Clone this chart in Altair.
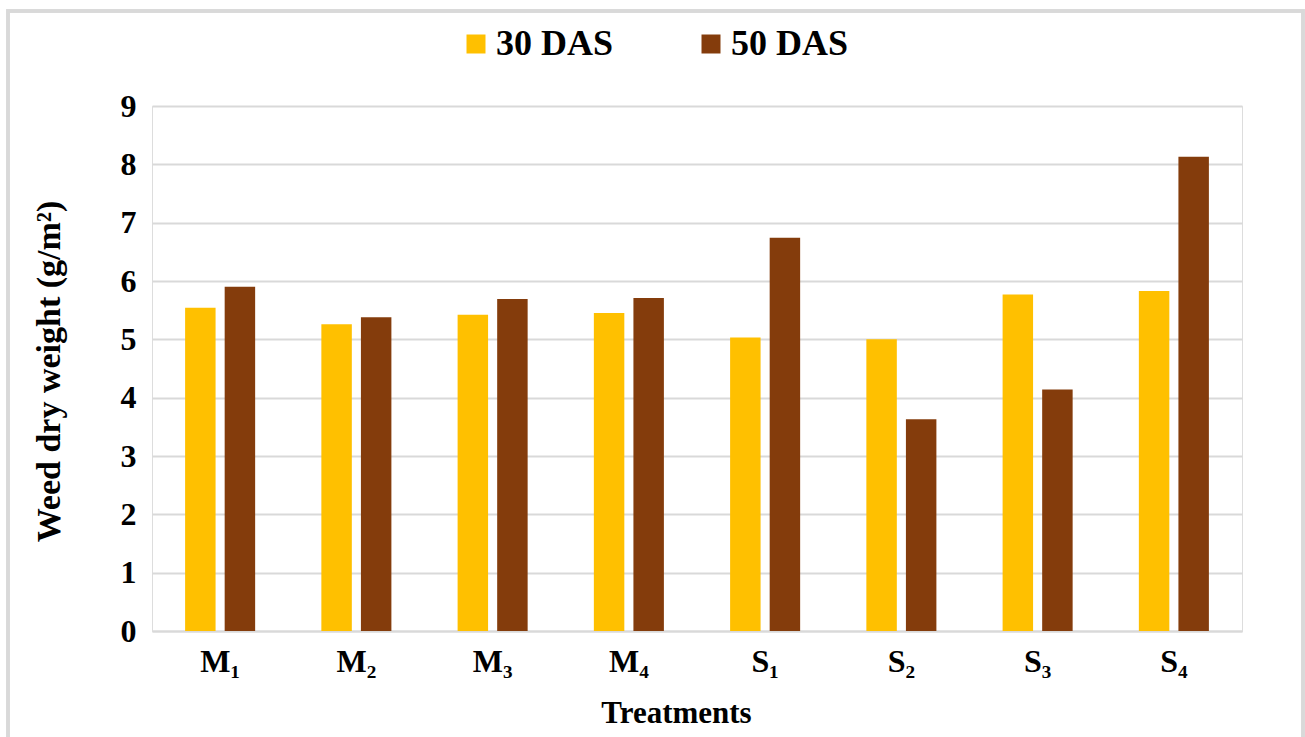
import altair as alt
import pandas as pd

treatments = ["M₁", "M₂", "M₃", "M₄", "S₁", "S₂", "S₃", "S₄"]
das30 = [5.54, 5.26, 5.42, 5.45, 5.03, 5.00, 5.77, 5.83]
das50 = [5.90, 5.38, 5.69, 5.71, 6.74, 3.63, 4.14, 8.13]
series = ["30 DAS", "50 DAS"]
colors = ["#FFC000", "#843C0C"]
y_ticks = [0, 1, 2, 3, 4, 5, 6, 7, 8, 9]

rows = []
for t, a, b in zip(treatments, das30, das50):
    rows.append({"Treatment": t, "Series": series[0], "Value": a})
    rows.append({"Treatment": t, "Series": series[1], "Value": b})
df = pd.DataFrame(rows)

FONT = "Liberation Serif"
GRID = "#D9D9D9"

bars = alt.Chart(df).mark_bar().encode(
    x=alt.X("Treatment:N", sort=treatments,
            scale=alt.Scale(paddingInner=0.486, paddingOuter=0.243),
            axis=alt.Axis(title="Treatments", labelAngle=0, tickSize=0, ticks=False,
                          labelFont=FONT, labelFontSize=32, labelFontWeight="bold",
                          labelColor="#000000", labelBaseline="alphabetic", labelPadding=40,
                          titleFont=FONT, titleFontSize=31, titleFontWeight="bold",
                          titleColor="#000000", titleX=524, titleY=91,
                          titleBaseline="alphabetic", titleAlign="center",
                          domainColor=GRID, domainWidth=2, grid=False)),
    xOffset=alt.XOffset("Series:N", sort=series,
                        scale=alt.Scale(paddingInner=0.23, paddingOuter=0)),
    y=alt.Y("Value:Q", scale=alt.Scale(domain=[0, 9], nice=False),
            axis=alt.Axis(title="Weed dry weight (g/m²)", values=y_ticks, format="d",
                          tickSize=0, ticks=False, domain=False,
                          labelFont=FONT, labelFontSize=32, labelFontWeight="bold",
                          labelColor="#000000", labelPadding=16,
                          titleFont=FONT, titleFontSize=34, titleFontWeight="bold",
                          titleColor="#000000", titleAngle=270, titleX=-103, titleY=265,
                          titleBaseline="middle", titleAlign="center",
                          gridColor=GRID, gridWidth=2)),
    color=alt.Color("Series:N", sort=series,
                    scale=alt.Scale(domain=series, range=colors),
                    legend=alt.Legend(title=None, orient="none", legendX=306, legendY=-80,
                                      direction="horizontal", columns=2, columnPadding=79,
                                      symbolType="square", symbolSize=361,
                                      symbolStrokeWidth=0, padding=0,
                                      labelFont=FONT, labelFontSize=36, labelFontWeight="bold",
                                      labelColor="#000000", labelOffset=2)),
)

border = alt.Chart(df).mark_rect(fillOpacity=0, stroke=GRID, strokeWidth=3, clip=False).encode(
    x=alt.value(-144), x2=alt.value(1151), y=alt.value(-95), y2=alt.value(640)
)

chart = alt.layer(bars, border).properties(
    width=1090, height=525,
    autosize=alt.AutoSizeParams(type="none"),
    padding={"left": 152, "top": 106, "right": 63, "bottom": 106},
).configure_view(stroke=None).configure(background="#FFFFFF")

chart.save("out.html", embed_options={"renderer": "svg", "actions": False})
